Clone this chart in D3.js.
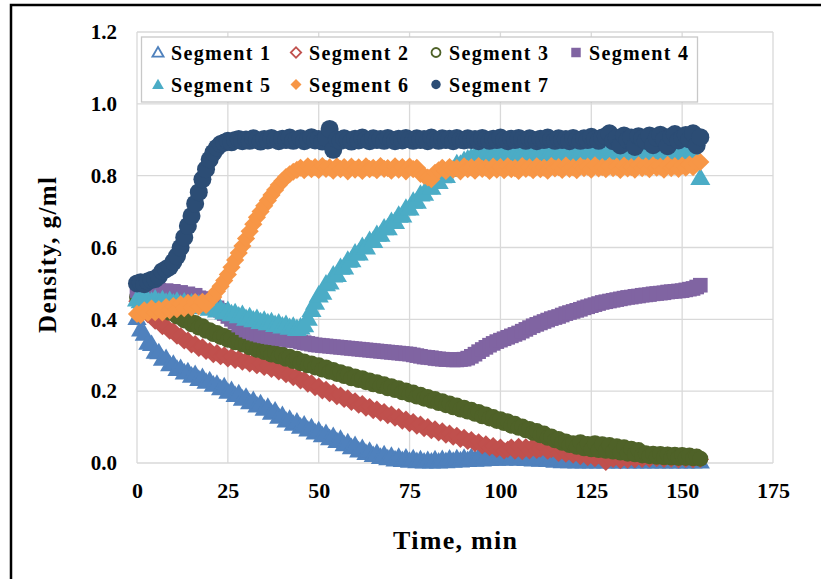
<!DOCTYPE html>
<html>
<head>
<meta charset="utf-8">
<script src="https://cdn.jsdelivr.net/npm/d3@7"></script>
<style>
  body { margin: 0; background: #fff; }
  svg { display: block; }
  text { font-family: "Liberation Serif", "Times New Roman", serif; font-weight: bold; fill: #000; }
</style>
</head>
<body>
<svg id="chart" width="821" height="579"></svg>
<script>
// Sampling times, min
const minutes = [
  0,1,2,3,4,5,6,7,8,9,10,11,12,13,14,15,16,17,18,19,
  20,21,22,23,24,25,26,27,28,29,30,31,32,33,34,35,36,37,38,39,
  40,41,42,43,44,45,46,47,48,49,50,51,52,53,54,55,56,57,58,59,
  60,61,62,63,64,65,66,67,68,69,70,71,72,73,74,75,76,77,78,79,
  80,81,82,83,84,85,86,87,88,89,90,91,92,93,94,95,96,97,98,99,
  100,101,102,103,104,105,106,107,108,109,110,111,112,113,114,115,116,117,118,119,
  120,121,122,123,124,125,126,127,128,129,130,131,132,133,134,135,136,137,138,139,
  140,141,142,143,144,145,146,147,148,149,150,151,152,153,154,155
];

// Density readings, g/ml
const segment1 = [
  .400,.368,.356,.331,.327,.306,.304,.286,.288,.271,
  .272,.258,.260,.248,.251,.239,.243,.230,.235,.222,
  .226,.214,.216,.204,.209,.194,.199,.185,.190,.175,
  .180,.165,.171,.156,.162,.147,.152,.136,.142,.125,
  .129,.114,.119,.105,.111,.097,.103,.089,.095,.081,
  .087,.073,.079,.065,.071,.057,.063,.048,.053,.040,
  .046,.031,.037,.024,.030,.018,.024,.013,.020,.009,
  .016,.006,.013,.004,.011,.002,.009,.001,.006,.000,
  .004,.000,.006,.000,.007,.001,.008,.002,.009,.003,
  .010,.004,.012,.005,.013,.006,.014,.007,.015,.008,
  .016,.008,.017,.009,.018,.008,.016,.007,.015,.006,
  .014,.005,.012,.004,.010,.002,.008,.001,.007,.001,
  .005,.000,.004,.000,.004,.000,.003,.000,.003,.000,
  .003,.000,.002,.000,.002,.000,.002,.000,.002,.000,
  .002,.000,.002,.000,.002,.000,.002,.000,.002,.000,
  .002,.000,.002,.000,.002,.000
];
const segment2 = [
  .450,.434,.431,.413,.412,.395,.395,.380,.381,.367,
  .368,.353,.354,.340,.342,.329,.332,.319,.323,.311,
  .313,.302,.307,.296,.301,.290,.296,.286,.291,.281,
  .286,.276,.282,.271,.277,.266,.271,.261,.266,.254,
  .258,.246,.250,.238,.242,.229,.233,.220,.223,.210,
  .214,.201,.205,.193,.197,.185,.189,.177,.181,.169,
  .173,.161,.165,.153,.157,.146,.150,.139,.143,.132,
  .136,.125,.129,.117,.122,.110,.115,.103,.108,.096,
  .101,.090,.095,.084,.089,.078,.083,.072,.077,.066,
  .071,.060,.065,.054,.059,.048,.053,.043,.048,.038,
  .044,.034,.038,.044,.033,.046,.032,.045,.034,.047,
  .035,.039,.045,.033,.037,.042,.027,.040,.025,.037,
  .022,.034,.018,.031,.015,.027,.012,.024,.016,.002,
  .014,.010,.019,.007,.021,.008,.022,.009,.023,.010,
  .020,.011,.024,.012,.021,.010,.022,.011,.020,.009,
  .019,.010,.018,.009,.016,.010
];
const segment3 = [
  .462,.454,.459,.446,.450,.437,.441,.428,.431,.418,
  .420,.408,.410,.397,.400,.386,.390,.377,.381,.368,
  .370,.359,.362,.351,.354,.343,.348,.336,.341,.330,
  .332,.322,.325,.315,.319,.309,.313,.302,.307,.297,
  .302,.290,.296,.284,.290,.278,.283,.272,.277,.266,
  .272,.260,.266,.254,.259,.248,.253,.242,.247,.236,
  .241,.231,.236,.225,.230,.219,.225,.214,.219,.208,
  .214,.203,.208,.197,.202,.191,.196,.185,.190,.179,
  .184,.173,.178,.167,.172,.161,.166,.155,.160,.149,
  .154,.143,.148,.137,.142,.130,.135,.124,.128,.117,
  .122,.111,.116,.104,.109,.098,.102,.091,.095,.084,
  .089,.077,.082,.070,.074,.063,.067,.056,.060,.050,
  .055,.045,.058,.041,.053,.038,.055,.036,.052,.034,
  .050,.032,.047,.029,.044,.026,.040,.024,.036,.021,
  .027,.019,.026,.017,.025,.016,.024,.015,.023,.014,
  .022,.014,.021,.013,.018,.012
];
const segment4 = [
  .480,.478,.483,.479,.482,.477,.481,.476,.480,.475,
  .478,.472,.475,.469,.471,.465,.467,.460,.458,.452,
  .446,.440,.432,.425,.416,.408,.400,.392,.384,.377,
  .370,.366,.362,.359,.356,.354,.352,.350,.349,.347,
  .346,.344,.343,.341,.340,.337,.335,.333,.331,.329,
  .328,.327,.326,.325,.324,.323,.322,.321,.320,.319,
  .318,.317,.316,.315,.314,.313,.312,.311,.310,.309,
  .308,.307,.306,.305,.304,.303,.301,.299,.297,.295,
  .294,.293,.291,.290,.289,.288,.288,.287,.287,.288,
  .289,.292,.297,.303,.310,.316,.322,.328,.333,.338,
  .342,.346,.350,.354,.358,.362,.367,.372,.377,.382,
  .386,.390,.394,.398,.402,.405,.408,.412,.416,.419,
  .422,.425,.428,.432,.435,.438,.441,.444,.447,.449,
  .451,.453,.455,.457,.459,.461,.462,.464,.465,.467,
  .468,.469,.471,.472,.473,.474,.476,.477,.478,.479,
  .480,.482,.484,.486,.490,.495
];
const segment5 = [
  .452,.447,.455,.449,.446,.452,.444,.450,.443,.448,
  .441,.446,.438,.444,.436,.441,.433,.438,.430,.434,
  .426,.430,.421,.425,.416,.420,.411,.414,.405,.409,
  .398,.403,.394,.398,.389,.393,.386,.389,.381,.385,
  .377,.381,.373,.376,.370,.374,.380,.398,.423,.443,
  .463,.471,.494,.499,.519,.520,.540,.541,.560,.561,
  .580,.580,.598,.597,.615,.615,.632,.632,.650,.650,
  .668,.668,.685,.686,.705,.705,.724,.724,.744,.746,
  .764,.763,.780,.779,.795,.796,.813,.813,.829,.827,
  .838,.842,.847,.850,.853,.849,.856,.852,.858,.851,
  .857,.853,.859,.850,.856,.852,.858,.854,.860,.851,
  .857,.853,.859,.852,.856,.850,.858,.854,.860,.853,
  .857,.851,.859,.855,.861,.852,.858,.854,.866,.872,
  .878,.862,.855,.859,.852,.857,.853,.859,.851,.856,
  .852,.858,.854,.860,.851,.857,.853,.858,.852,.856,
  .853,.858,.850,.855,.848,.790
];
const segment6 = [
  .415,.412,.425,.418,.430,.420,.428,.419,.434,.425,
  .437,.428,.442,.431,.446,.433,.448,.436,.449,.440,
  .455,.462,.478,.492,.508,.525,.545,.565,.585,.604,
  .625,.645,.665,.684,.700,.716,.731,.746,.760,.774,
  .785,.796,.804,.811,.816,.822,.815,.826,.818,.824,
  .816,.827,.819,.823,.814,.826,.818,.824,.812,.825,
  .817,.823,.813,.826,.818,.822,.815,.827,.819,.821,
  .814,.826,.817,.824,.812,.825,.818,.822,.805,.800,
  .795,.790,.808,.815,.822,.813,.824,.817,.821,.812,
  .826,.818,.823,.814,.827,.819,.822,.813,.825,.817,
  .824,.815,.826,.818,.821,.813,.827,.819,.823,.815,
  .826,.818,.822,.814,.827,.820,.824,.816,.828,.819,
  .823,.815,.827,.821,.825,.817,.829,.820,.824,.818,
  .827,.821,.825,.816,.828,.820,.824,.817,.829,.821,
  .826,.818,.829,.822,.825,.817,.830,.821,.827,.819,
  .828,.822,.831,.824,.835,.838
];
const segment7 = [
  .500,.503,.498,.506,.510,.512,.520,.534,.540,.546,
  .560,.576,.600,.628,.660,.688,.722,.754,.790,.818,
  .845,.864,.878,.888,.892,.897,.893,.899,.902,.896,
  .901,.897,.904,.899,.895,.902,.898,.905,.900,.896,
  .903,.899,.906,.897,.901,.904,.896,.900,.907,.898,
  .902,.895,.905,.930,.872,.901,.897,.904,.899,.895,
  .903,.898,.906,.900,.896,.904,.899,.902,.897,.905,
  .900,.896,.903,.898,.905,.901,.897,.904,.899,.902,
  .896,.906,.900,.897,.904,.899,.903,.896,.905,.900,
  .898,.904,.899,.902,.896,.905,.901,.897,.903,.899,
  .906,.900,.896,.903,.899,.905,.901,.897,.904,.900,
  .896,.903,.899,.906,.901,.897,.904,.899,.902,.896,
  .905,.900,.897,.904,.899,.908,.902,.897,.906,.910,
  .918,.896,.905,.884,.912,.899,.906,.880,.910,.903,
  .897,.912,.885,.906,.914,.900,.882,.909,.916,.898,
  .905,.913,.901,.918,.884,.907
];

const seriesNames = ["Segment 1", "Segment 2", "Segment 3", "Segment 4", "Segment 5", "Segment 6", "Segment 7"];
const seriesValues = [segment1, segment2, segment3, segment4, segment5, segment6, segment7];
const xTicks = [0, 25, 50, 75, 100, 125, 150, 175];
const yTicks = [0, 0.2, 0.4, 0.6, 0.8, 1.0, 1.2];

// Marker styling per series
const seriesStyle = [
  { color: "#4F81BD", shape: "triangle", size: 160, open: true },
  { color: "#C0504D", shape: "diamond",  size: 150, open: true },
  { color: "#4F6228", shape: "circle",   size: 200, open: true },
  { color: "#8064A2", shape: "square",   size: 215, open: false },
  { color: "#4BACC6", shape: "triangle", size: 175, open: false },
  { color: "#F79646", shape: "diamond",  size: 165, open: false },
  { color: "#2C4D75", shape: "circle",   size: 255, open: false }
];

const svg = d3.select("#chart");
svg.append("rect").attr("width", 821).attr("height", 579).attr("fill", "#fff");

// Outer frame
svg.append("rect")
  .attr("x", 11).attr("y", 5).attr("width", 830).attr("height", 600)
  .attr("fill", "none").attr("stroke", "#000").attr("stroke-width", 2.5);

const plot = { left: 137, right: 773, top: 32, bottom: 463 };
const x = d3.scaleLinear().domain([0, 175]).range([plot.left, plot.right]);
const y = d3.scaleLinear().domain([0, 1.2]).range([plot.bottom, plot.top]);

const gridColor = "#d9d9d9";
const grid = svg.append("g");
grid.selectAll(".gx").data(xTicks).join("line")
  .attr("x1", d => x(d)).attr("x2", d => x(d))
  .attr("y1", plot.top).attr("y2", plot.bottom)
  .attr("stroke", gridColor).attr("stroke-width", 1.3);
grid.selectAll(".gy").data(yTicks).join("line")
  .attr("x1", plot.left).attr("x2", plot.right)
  .attr("y1", d => y(d)).attr("y2", d => y(d))
  .attr("stroke", gridColor).attr("stroke-width", 1.3);

// Axes (labels only)
const yAxis = svg.append("g")
  .attr("transform", `translate(${plot.left - 20},0)`)
  .call(d3.axisLeft(y).tickValues(yTicks).tickFormat(d3.format(".1f")).tickSize(0).tickPadding(0));
yAxis.select(".domain").remove();
yAxis.selectAll("text").attr("font-size", 21).attr("font-family", null).attr("fill", "#000");

const xAxis = svg.append("g")
  .attr("transform", `translate(0,${plot.bottom + 19})`)
  .call(d3.axisBottom(x).tickValues(xTicks).tickFormat(d3.format("d")).tickSize(0).tickPadding(0));
xAxis.select(".domain").remove();
xAxis.selectAll("text").attr("font-size", 22).attr("font-family", null).attr("fill", "#000");

function symbolPath(style, size) {
  const type = style.shape === "triangle" ? d3.symbolTriangle
    : style.shape === "circle" ? d3.symbolCircle
    : d3.symbolSquare;
  return d3.symbol().type(type).size(size)();
}
function rotation(style) { return style.shape === "diamond" ? 45 : 0; }

// Data markers, drawn in series order
seriesValues.forEach((vals, i) => {
  const st = seriesStyle[i];
  const path = symbolPath(st, st.size);
  svg.append("g").selectAll("path")
    .data(minutes.map((t, j) => [t, vals[j]]))
    .join("path")
    .attr("d", path)
    .attr("transform", d => `translate(${x(d[0])},${y(d[1])}) rotate(${rotation(st)})`)
    .attr("fill", st.color);
});

// Legend
const legend = svg.append("g");
legend.append("rect")
  .attr("x", 141.5).attr("y", 37).attr("width", 556).attr("height", 65)
  .attr("fill", "#fff").attr("stroke", "#c8c8c8").attr("stroke-width", 1.3);
const colX = [158, 296, 436, 576];
const rowY = [52.5, 84.5];
seriesNames.forEach((name, i) => {
  const st = seriesStyle[i];
  const cx = colX[i % 4], cy = rowY[Math.floor(i / 4)];
  const legendSize = st.shape === "circle" ? 70 : st.shape === "square" ? 90 : 60;
  legend.append("path")
    .attr("d", symbolPath(st, st.open ? legendSize * 0.9 : legendSize))
    .attr("transform", `translate(${cx},${cy + (st.shape === "triangle" ? 1 : 0)}) rotate(${rotation(st)})`)
    .attr("fill", st.open ? "#fff" : st.color)
    .attr("stroke", st.open ? st.color : "none")
    .attr("stroke-width", 1.8);
  legend.append("text")
    .attr("x", cx + 13).attr("y", cy + 7.5)
    .attr("font-size", 20)
    .attr("textLength", 99).attr("lengthAdjust", "spacing")
    .text(name);
});

// Axis titles
svg.append("text")
  .attr("x", (plot.left + plot.right) / 2).attr("y", 549)
  .attr("text-anchor", "middle").attr("font-size", 26)
  .attr("textLength", 124).attr("lengthAdjust", "spacing")
  .text("Time, min");
svg.append("text")
  .attr("transform", "translate(56,255) rotate(-90)")
  .attr("text-anchor", "middle").attr("font-size", 25)
  .attr("textLength", 156).attr("lengthAdjust", "spacing")
  .text("Density, g/ml");
</script>
</body>
</html>
